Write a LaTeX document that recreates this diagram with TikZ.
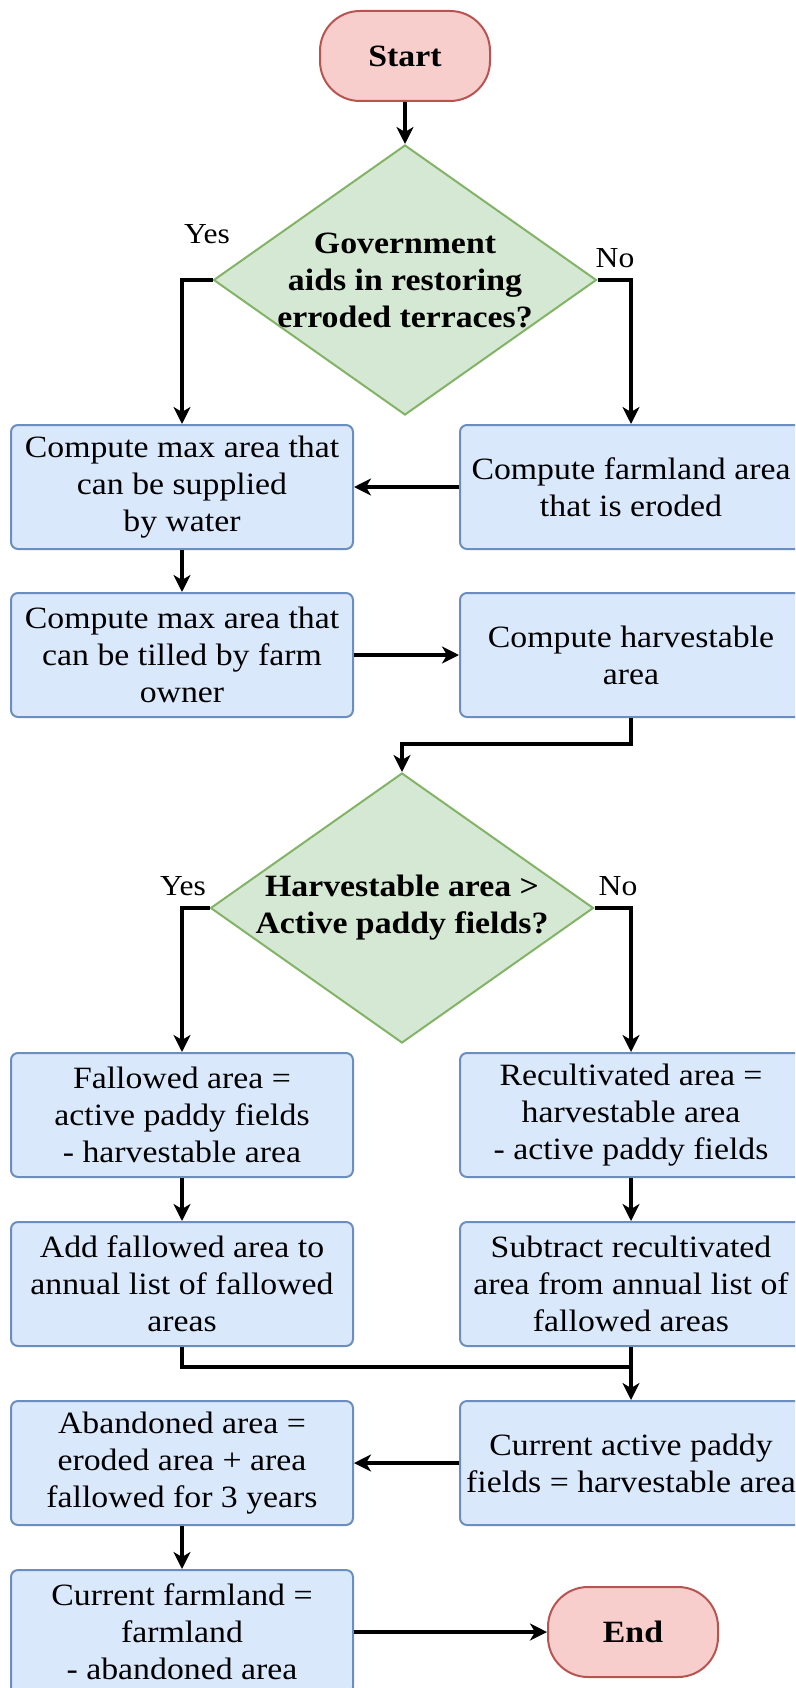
\documentclass[tikz,border=0pt]{standalone}
\usepackage{fontspec}
\setmainfont{Liberation Serif}[FakeStretch=1.09]
\usetikzlibrary{shapes.geometric,arrows.meta}
\definecolor{boxfill}{HTML}{DAE8FC}
\definecolor{boxline}{HTML}{6C8EBF}
\definecolor{decfill}{HTML}{D5E8D4}
\definecolor{decline}{HTML}{82B366}
\definecolor{termfill}{HTML}{F8CECC}
\definecolor{termline}{HTML}{B85450}
\begin{document}
\begin{tikzpicture}[x=1pt,y=-1pt,
  every node/.style={font=\fontsize{31}{37}\selectfont},
  box/.style={rectangle, rounded corners=7pt, draw=boxline, fill=boxfill,
    line width=2pt, minimum width=342pt, minimum height=124pt,
    align=center, inner sep=0pt},
  decision/.style={diamond, draw=decline, fill=decfill, line width=2pt,
    minimum width=383pt, minimum height=270pt, inner sep=0pt},
  dtext/.style={align=center, font=\fontsize{31}{37}\selectfont\bfseries},
  term/.style={rectangle, rounded corners=40pt, draw=termline, fill=termfill,
    line width=2pt, minimum width=170pt, minimum height=90pt,
    font=\fontsize{31}{37}\selectfont\bfseries},
  flow/.style={draw=black, line width=3.3pt,
    -{Stealth[length=17pt,width=17pt,inset=5pt]}},
  joinline/.style={draw=black, line width=3.3pt},
  ans/.style={font=\fontsize{29}{34}\selectfont}
]
\clip (0,0) rectangle (795,1688);

% terminals and decisions
\node[term] (tstart) at (405,56) {Start};
\node[decision, label={[dtext]center:{Government\\aids in restoring\\erroded terraces?}}] (d1) at (405,280) {};

% first block of computations
\node[box] (b1) at (182,487) {Compute max area that\\can be supplied\\by water};
\node[box] (b2) at (631,487) {Compute farmland area\\that is eroded};
\node[box] (b3) at (182,655) {Compute max area that\\can be tilled by farm\\owner};
\node[box] (b4) at (631,655) {Compute harvestable\\area};

\node[decision, label={[dtext]center:{Harvestable area >\\Active paddy fields?}}] (d2) at (402,908) {};

% fallow / recultivation branches
\node[box] (b5) at (182,1115) {Fallowed area =\\active paddy fields\\- harvestable area};
\node[box] (b6) at (631,1115) {Recultivated area =\\harvestable area\\- active paddy fields};
\node[box] (b7) at (182,1284) {Add fallowed area to\\annual list of fallowed\\areas};
\node[box] (b8) at (631,1284) {Subtract recultivated\\area from annual list of\\fallowed areas};

% final updates
\node[box] (b9) at (631,1463) {Current active paddy\\fields = harvestable area};
\node[box] (b10) at (182,1463) {Abandoned area =\\eroded area + area\\fallowed for 3 years};
\node[box] (b11) at (182,1632) {Current farmland =\\farmland\\- abandoned area};
\node[term] (tend) at (633,1632) {End};

% branch labels
\node[ans] (y1) at (207,234) {Yes};
\node[ans] (n1) at (615,258) {No};
\node[ans] (y2) at (183,886) {Yes};
\node[ans] (n2) at (618,886) {No};

% connectors
\draw[flow] (tstart) -- (d1);
\draw[flow] (d1.west) -| (b1.north);
\draw[flow] (d1.east) -| (b2.north);
\draw[flow] (b2) -- (b1);
\draw[flow] (b1) -- (b3);
\draw[flow] (b3) -- (b4);
\draw[flow] (b4.south) -- ++(0,26) -| (d2.north);
\draw[flow] (d2.west) -| (b5.north);
\draw[flow] (d2.east) -| (b6.north);
\draw[flow] (b5) -- (b7);
\draw[flow] (b6) -- (b8);
\coordinate (m) at (631,1367);
\draw[joinline] (b7.south) |- (m);
\draw[flow] (b8) -- (b9);
\draw[flow] (b9) -- (b10);
\draw[flow] (b10) -- (b11);
\draw[flow] (b11) -- (tend);
\end{tikzpicture}
\end{document}
